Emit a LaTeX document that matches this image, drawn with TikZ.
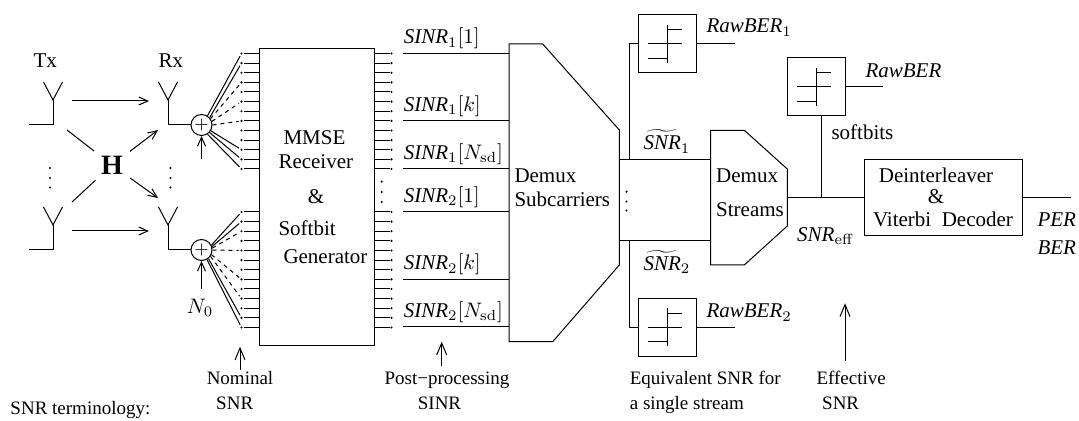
\documentclass[tikz,border=0pt]{standalone}
\usepackage{fix-cm}
\usepackage[no-math]{fontspec}
\setmainfont{Liberation Serif}
\usetikzlibrary{arrows.meta}
\tikzset{
lab/.style={inner sep=0pt,anchor=base west,font=\fontsize{10.5}{12}\selectfont},
note/.style={inner sep=0pt,anchor=base west,font=\fontsize{9.5}{11}\selectfont},
block/.style={draw,inner sep=0pt},
sumnode/.style={draw,circle,inner sep=0pt,minimum size=10.5pt,font=\fontsize{9}{10}\selectfont},
thresh/.style={draw,inner sep=0pt,minimum size=29pt},
tip/.style={-{Straight Barb[length=4.5pt,width=4pt]}},
tipbig/.style={-{Straight Barb[length=6pt,width=5pt]}},
fan/.style={shorten >=1.5pt},
fand/.style={shorten >=1.5pt,dash pattern=on 2pt off 2pt}
}
\begin{document}
\begin{tikzpicture}[x=0.5pt,y=-0.5pt,line width=0.5pt]
\useasboundingbox(0,0)rectangle(1079,421);
\node[lab](tx)at(33,68){Tx};
\node[lab](rx)at(158,68){Rx};
\foreach \ax/\ay/\an in {53/125/txa,168/125/rxa,53/250/txb,168/250/rxb}{
\coordinate(\an)at(\ax,\ay);
\draw(\ax-9.5,\ay-43)--(\ax,\ay-25)--(\ax+9.5,\ay-43);
\draw(\ax,\ay-25)--(\an);
}
\draw(txa)--++(-24,0);
\draw(txb)--++(-24,0);
\node[sumnode](suma)at(201.5,125){$+$};
\node[sumnode](sumb)at(201.5,250){$+$};
\draw(rxa)--(suma);
\draw(rxb)--(sumb);
\node[circle,inner sep=0pt,minimum size=22pt,font=\fontsize{14}{16}\selectfont\bfseries](chan)at(112,165){H};
\coordinate(hul)at(67,130);
\coordinate(hll)at(72,202);
\coordinate(hur)at(158,130);
\coordinate(hlr)at(158,198);
\draw(hul)--(chan);
\draw(hll)--(chan);
\draw[tip](chan)--(hur);
\draw[tip](chan)--(hlr);
\foreach \py in {101,231}{
\coordinate(lnk\py s)at(72,\py);
\coordinate(lnk\py e)at(149,\py);
\draw[tip](lnk\py s)--(lnk\py e);
}
\foreach \x in {50,170.5}\foreach \y in {168,178,187.5}{\fill(\x,\y)circle(1.2);}
\coordinate(nsa)at(201.5,159);
\node[lab,anchor=center](nz)at(200,308){$N_0$};
\coordinate(nsb)at(201.5,289);
\draw[tip](nsa)--(suma);
\draw[tip](nsb)--(sumb);
\node[block,minimum width=57.5pt,minimum height=148.35pt](mmse)at(317,197.35){};
\foreach \g/\yz in {a/53.5,b/212}\foreach \i in {1,...,13}{
\pgfmathsetmacro{\py}{\yz+(\i-1)*9.625}
\coordinate(l\g\i)at(241.5,\py);
\coordinate(r\g\i)at(391.5,\py);
\fill(l\g\i)circle(1.2);
\fill(r\g\i)circle(1.2);
\draw[shorten <=1pt](l\g\i)--(l\g\i-|mmse.west);
\draw[shorten <=1pt](r\g\i)--(r\g\i-|mmse.east);
}
\foreach \y in {181.7,192,202}{\fill(381.7,\y)circle(1.2);}
\draw[fan](suma.57)--(la1);
\draw[fan](suma.42)--(la2);
\draw[fand](suma.35)--(la4);
\draw[fand](suma.19)--(la6);
\draw[fand](suma.0)--(la8);
\draw[fan](suma.-32)--(la11);
\draw[fan](suma.-43)--(la12);
\draw[fan](suma.-57)--(la13);
\draw[fan](sumb.26)--(lb1);
\draw[fan](sumb.18)--(lb2);
\draw[fand](sumb.10)--(lb3);
\draw[fand](sumb.0)--(lb5);
\draw[fand](sumb.-25)--(lb8);
\draw[fand](sumb.-35)--(lb10);
\draw[fan](sumb.-51)--(lb12);
\draw[fan](sumb.-60)--(lb13);
\node[lab](ma)at(283,145){MMSE};
\node[lab](mb)at(278,169){Receiver};
\node[lab,anchor=base](mc)at(316,204){\&};
\node[lab](md)at(278,236){Softbit};
\node[lab](me)at(283,264){Generator};
\coordinate(dsub)at(509,0);
\coordinate(dsubr)at(619.3,0);
\draw(509,44)--(542.7,44)--(619.3,130)--(619.3,265)--(552.7,341.7)--(509,341.7)--cycle;
\foreach \n/\y/\t in {sa/53.5/{\textit{SINR}$_1[1]$},sb/121/{\textit{SINR}$_1[k]$},sc/169/{\textit{SINR}$_1[N_{\mathrm{sd}}]$},sd/212/{\textit{SINR}$_2[1]$},se/279.5/{\textit{SINR}$_2[k]$},sf/327/{\textit{SINR}$_2[N_{\mathrm{sd}}]$}}{
\coordinate(\n)at(403.3,\y);
\draw(\n)--(\n-|dsub);
\node[lab](\n l)at(403.3,\y-9.5){\t};
}
\node[lab](dsa)at(514,183){Demux};
\node[lab](dsb)at(514,206.5){Subcarriers};
\coordinate(dstr)at(710.7,0);
\coordinate(dstrr)at(787.3,0);
\draw(710.7,130.3)--(744.3,130.3)--(787.3,169)--(787.3,226)--(744.3,265)--(710.7,265)--cycle;
\node[lab](dta)at(715.7,182.7){Demux};
\node[lab](dtb)at(715.7,216.7){Streams};
\coordinate(snrt)at(629,159.3);
\coordinate(snrb)at(629,240.7);
\draw(snrt-|dsubr)--(snrt-|dstr);
\draw(snrb-|dsubr)--(snrb-|dstr);
\foreach \y in {191.7,201.5,210.5}{\fill(626.5,\y)circle(1.2);}
\node[lab](snta)at(643,150){$\widetilde{\textit{SNR}}_1$};
\node[lab](sntb)at(643,270.7){$\widetilde{\textit{SNR}}_2$};
\foreach \bx/\by/\bn in {667.6/44/rawa,667.6/327.3/rawb,816.3/87/rawc}{
\node[thresh](\bn)at(\bx,\by){};
\draw(\bx,\by-19)--(\bx,\by+18.7);
\draw(\bx-19.6,\by)--(\bx+14.4,\by);
\draw(\bx,\by-14)--(\bx+14.4,\by-14);
\draw(\bx-19.6,\by+14.3)--(\bx,\by+14.3);
}
\draw(snrt)|-(rawa);
\draw(snrb)|-(rawb);
\coordinate(rawao)at(735,44);
\coordinate(rawbo)at(735,327.3);
\coordinate(rawco)at(883,87);
\draw(rawa)--(rawao);
\draw(rawb)--(rawbo);
\draw(rawc)--(rawco);
\node[lab](rla)at(706,33){\textit{RawBER}$_1$};
\node[lab](rlb)at(706,318){\textit{RawBER}$_2$};
\node[lab](rlc)at(865,78){\textit{RawBER}};
\coordinate(eff)at(821,197.5);
\node[block,minimum width=79.2pt,minimum height=38.35pt](dec)at(943.5,197.65){};
\draw(eff-|dstrr)--(eff-|dec.west);
\draw(rawc.south-|eff)--(eff);
\coordinate(deco)at(1070.7,197.5);
\draw(deco-|dec.east)--(deco);
\node[lab](soft)at(831,140){softbits};
\node[lab](eb)at(796.7,241.7){\textit{SNR}$_{\mathrm{eff}}$};
\node[lab,anchor=base](dea)at(936,182.7){Deinterleaver};
\node[lab,anchor=base](deb)at(936,204){\&};
\node[lab,anchor=base](dev)at(943,226.7){Viterbi\ \ Decoder};
\node[lab](per)at(1037,226.7){\textit{PER}};
\node[lab](ber)at(1037,255){\textit{BER}};
\coordinate(nomb)at(240,370);
\coordinate(nomt)at(240,346.7);
\coordinate(posb)at(441.7,365.7);
\coordinate(post)at(441.7,341.7);
\coordinate(efb)at(845,360.7);
\coordinate(eft)at(845,303.3);
\draw[tipbig](nomb)--(nomt);
\draw[tipbig](posb)--(post);
\draw[tipbig](efb)--(eft);
\node[note](term)at(10,414){SNR terminology:};
\node[note,anchor=base](noma)at(240,385){Nominal};
\node[note,anchor=base](nomc)at(234.7,409){SNR};
\node[note,anchor=base](posa)at(447,385){Post−processing};
\node[note,anchor=base](posc)at(439.5,409){SINR};
\node[note](eqa)at(629.3,385){Equivalent SNR for};
\node[note](eqb)at(629.3,409){a single stream};
\node[note](efa)at(816,385){Effective};
\node[note](efc)at(821.7,409){SNR};
\end{tikzpicture}
\end{document}
